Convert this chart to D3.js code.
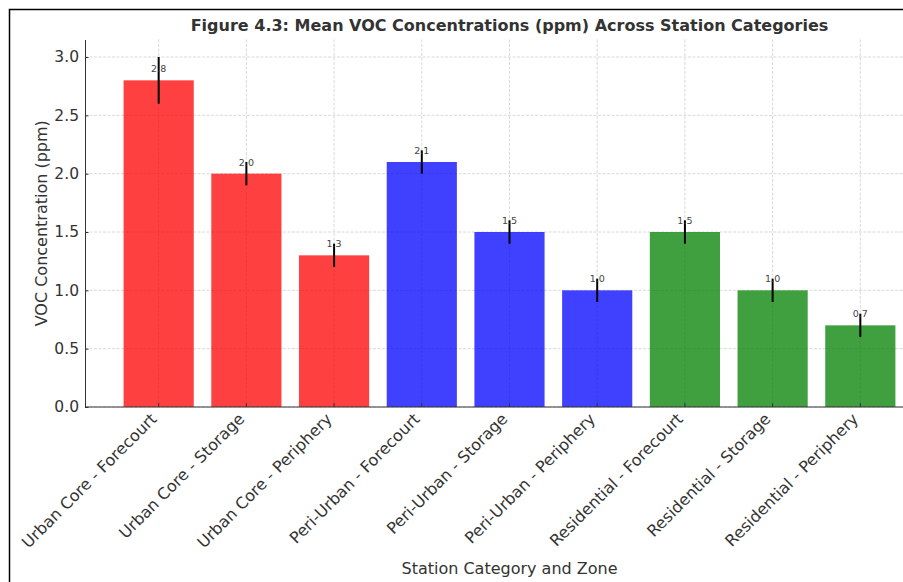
<!DOCTYPE html>
<html>
<head>
<meta charset="utf-8">
<script src="https://cdn.jsdelivr.net/npm/d3@7"></script>
<style>
  body { margin: 0; background: #fff; }
  svg { display: block; font-family: "DejaVu Sans", sans-serif; }
</style>
</head>
<body>
<div id="graph"></div>
<script>
const w = 903;
const h = 582;
const padding = { top: 39.5, bottom: 175, left: 85, right: -31 };
const font = "DejaVu Sans";

const categories = [
  "Urban Core - Forecourt",
  "Urban Core - Storage",
  "Urban Core - Periphery",
  "Peri-Urban - Forecourt",
  "Peri-Urban - Storage",
  "Peri-Urban - Periphery",
  "Residential - Forecourt",
  "Residential - Storage",
  "Residential - Periphery",
];
const groups = ["Urban Core", "Urban Core", "Urban Core", "Peri-Urban", "Peri-Urban", "Peri-Urban", "Residential", "Residential", "Residential"];
const means = [2.8, 2.0, 1.3, 2.1, 1.5, 1.0, 1.5, 1.0, 0.7];
const errors = [0.2, 0.1, 0.1, 0.1, 0.1, 0.1, 0.1, 0.1, 0.1];
const yTicks = [0, 0.5, 1.0, 1.5, 2.0, 2.5, 3.0];

const data = categories.map((c, i) => ({ name: c, group: groups[i], mean: means[i], err: errors[i] }));

const color = d3.scaleOrdinal().domain(["Urban Core", "Peri-Urban", "Residential"]).range(["red", "blue", "green"]);

const svg = d3.select("#graph").append("svg").attr("width", w).attr("height", h);

// outer frame (cropped on the right and bottom)
svg.append("rect")
  .attr("x", 9.5).attr("y", 9.5)
  .attr("width", 1000).attr("height", 1000)
  .attr("fill", "none").attr("stroke", "#000").attr("stroke-width", 1.5);

const xScale = d3.scaleBand()
  .domain(categories)
  .range([padding.left, w - padding.right])
  .paddingInner(0.2)
  .paddingOuter(0.44);
const yScale = d3.scaleLinear().domain([0, 3.15]).range([h - padding.bottom, padding.top]);
const cx = (d) => xScale(d) + xScale.bandwidth() / 2;

// grid
const grid = svg.append("g").attr("stroke", "#cfcfcf").attr("stroke-width", 0.8).attr("stroke-dasharray", "3,1.5");
grid.selectAll(".hgrid").data(yTicks).enter().append("line")
  .attr("x1", padding.left).attr("x2", w - padding.right)
  .attr("y1", (d) => yScale(d)).attr("y2", (d) => yScale(d));
grid.selectAll(".vgrid").data(categories).enter().append("line")
  .attr("x1", cx).attr("x2", cx)
  .attr("y1", padding.top).attr("y2", yScale(0));

// bars
svg.append("g").selectAll("rect").data(data).enter().append("rect")
  .attr("x", (d) => xScale(d.name))
  .attr("width", xScale.bandwidth())
  .attr("y", (d) => yScale(d.mean))
  .attr("height", (d) => yScale(0) - yScale(d.mean))
  .attr("fill", (d) => color(d.group))
  .attr("fill-opacity", 0.75);

// error bars
svg.append("g").selectAll("line").data(data).enter().append("line")
  .attr("x1", (d) => cx(d.name)).attr("x2", (d) => cx(d.name))
  .attr("y1", (d) => yScale(d.mean - d.err)).attr("y2", (d) => yScale(d.mean + d.err))
  .attr("stroke", "#000").attr("stroke-width", 2);

// value labels
svg.append("g").selectAll("text").data(data).enter().append("text")
  .attr("x", (d) => cx(d.name))
  .attr("y", (d) => yScale(d.mean + 0.05) - 2.2)
  .attr("text-anchor", "middle")
  .attr("font-size", 9.5)
  .attr("fill", "#444")
  .text((d) => d.mean.toFixed(1));

// axes
const xAxis = svg.append("g")
  .attr("transform", `translate(0, ${yScale(0)})`)
  .call(d3.axisBottom(xScale).tickSizeInner(-4).tickSizeOuter(0).tickPadding(8))
  .attr("font-family", font)
  .attr("font-size", 16);
xAxis.select(".domain").attr("stroke", "#333").attr("d", `M${padding.left},0H${w}`);
xAxis.selectAll(".tick line").attr("stroke", "#333");
xAxis.selectAll(".tick text")
  .attr("fill", "#333")
  .attr("text-anchor", "end")
  .attr("dy", "0.35em")
  .attr("transform", "translate(-5,9) rotate(-45)")
  .attr("y", 0);

const yAxis = svg.append("g")
  .attr("transform", `translate(${padding.left}, 0)`)
  .call(d3.axisLeft(yScale).tickValues(yTicks).tickFormat(d3.format(".1f")).tickSizeInner(-3.5).tickSizeOuter(0).tickPadding(6))
  .attr("font-family", font)
  .attr("font-size", 15.5);
yAxis.select(".domain").attr("stroke", "#333");
yAxis.selectAll(".tick line").attr("stroke", "#333");
yAxis.selectAll(".tick text").attr("fill", "#333");

// labels
svg.append("text")
  .attr("x", (padding.left + w - padding.right) / 2)
  .attr("y", 31)
  .attr("text-anchor", "middle")
  .attr("font-size", 16)
  .attr("font-weight", "bold")
  .attr("fill", "#333")
  .text("Figure 4.3: Mean VOC Concentrations (ppm) Across Station Categories");

svg.append("text")
  .attr("x", (padding.left + w - padding.right) / 2)
  .attr("y", 574)
  .attr("text-anchor", "middle")
  .attr("font-size", 16)
  .attr("fill", "#333")
  .text("Station Category and Zone");

svg.append("text")
  .attr("transform", `translate(47, ${(padding.top + yScale(0)) / 2}) rotate(-90)`)
  .attr("text-anchor", "middle")
  .attr("font-size", 16)
  .attr("fill", "#333")
  .text("VOC Concentration (ppm)");
</script>
</body>
</html>
